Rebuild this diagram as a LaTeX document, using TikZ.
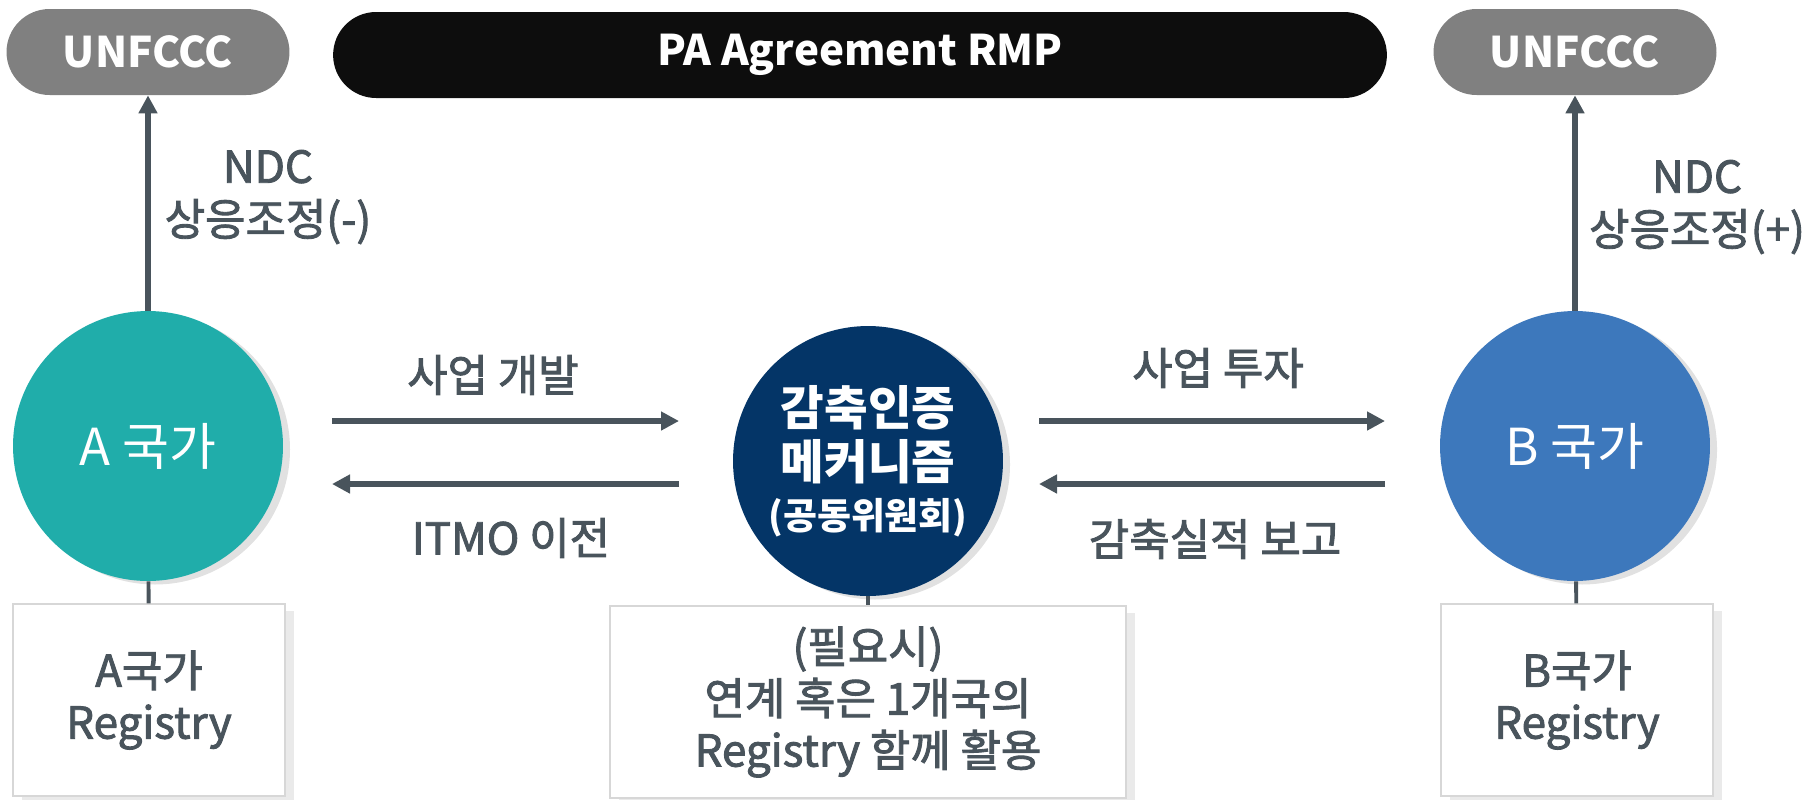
\documentclass[tikz,border=0pt]{standalone}
\usepackage{fontspec}
\setmainfont{Noto Sans CJK KR}
\newfontfamily\medfont{Noto Sans CJK KR}[FakeBold=2]
\usetikzlibrary{arrows.meta,shadows}
\definecolor{slate}{RGB}{73,84,92}
\definecolor{unfgray}{RGB}{128,128,128}
\definecolor{tealA}{RGB}{32,173,170}
\definecolor{navyM}{RGB}{4,53,103}
\definecolor{blueB}{RGB}{61,120,188}
\definecolor{shadegray}{RGB}{225,225,225}
\definecolor{boxgray}{RGB}{215,215,215}
\def\orgnode{\node[fill=unfgray, text=white, rounded corners=0.86cm, minimum width=5.66cm, minimum height=1.72cm, font=\bfseries\fontsize{24}{29}\selectfont]}
\def\nationnode{\node[circle, minimum size=5.4cm, inner sep=0pt, text=white, align=center, drop shadow={shadow xshift=4pt, shadow yshift=-2pt, fill=shadegray, opacity=1}]}
\def\regnode{\node[draw=boxgray, line width=0.8pt, fill=white, minimum height=3.84cm, align=center, text=slate, font=\medfont\fontsize{25}{29.5}\selectfont, drop shadow={shadow xshift=5pt, shadow yshift=-4pt, fill=shadegray!70, opacity=1}]}
\def\labnode{\node[text=slate, align=center, font=\medfont\fontsize{25}{30}\selectfont]}
\def\drawflow{\draw[color=slate, line width=3.4pt, -{Triangle[length=0.36cm, width=0.36cm]}]}
\def\drawlink{\draw[color=slate, line width=2.2pt]}

\begin{document}
\begin{tikzpicture}[x=0.02cm, y=-0.02cm, inner sep=1mm]
\useasboundingbox (0,0) rectangle (1814,799);
\orgnode (unfA) at (148,52) {UNFCCC};
\orgnode (unfB) at (1575,52) {UNFCCC};
\node[fill=black!95, text=white, rounded corners=0.86cm, minimum width=21.08cm, minimum height=1.72cm, font=\bfseries\fontsize{24}{29}\selectfont] (pa) at (860,55) {PA Agreement RMP};
\nationnode[fill=tealA, font=\fontsize{29}{34}\selectfont] (cA) at (148,446) {A 국가};
\nationnode[fill=blueB, font=\fontsize{29}{34}\selectfont] (cB) at (1575,446) {B 국가};
\nationnode[fill=navyM, font=\bfseries\fontsize{27}{31}\selectfont] (cM) at (868,461) {감축인증\\메커니즘\\[-3pt]{\fontsize{21}{24}\selectfont(공동위원회)}};
\regnode[minimum width=5.44cm] (regA) at (149,700) {A국가\\Registry};
\regnode[minimum width=5.44cm] (regB) at (1577,700) {B국가\\Registry};
\regnode[minimum width=10.32cm] (regM) at (868,702) {(필요시)\\연계 혹은 1개국의\\Registry 함께 활용};
\coordinate (devS) at (332,421);
\coordinate (devE) at (679,421);
\coordinate (itmS) at (679,484);
\coordinate (itmE) at (332,484);
\coordinate (invS) at (1039,421);
\coordinate (invE) at (1385,421);
\coordinate (repS) at (1385,484);
\coordinate (repE) at (1039,484);
\drawflow (devS) -- (devE);
\drawflow (itmS) -- (itmE);
\drawflow (invS) -- (invE);
\drawflow (repS) -- (repE);
\drawflow (cA) -- (unfA);
\drawflow (cB) -- (unfB);
\drawlink (cA) -- (regA);
\drawlink (cB) -- (regB);
\drawlink (cM) -- (regM);
\labnode (ndcA) at (268,197) {NDC\\상응조정(-)};
\labnode (ndcB) at (1697,207) {NDC\\상응조정(+)};
\labnode (dev) at (493,375) {사업 개발};
\labnode (itmo) at (511,538) {ITMO 이전};
\labnode (inv) at (1218,368) {사업 투자};
\labnode (rep) at (1215,539) {감축실적 보고};
\end{tikzpicture}
\end{document}
